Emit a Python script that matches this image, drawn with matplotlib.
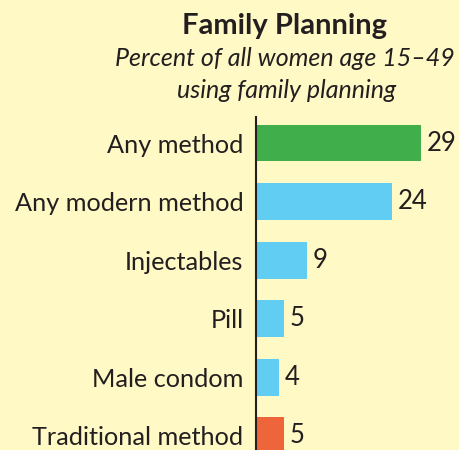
import matplotlib.pyplot as plt

methods = ['Any method', 'Any modern method', 'Injectables', 'Pill',
           'Male condom', 'Traditional method']
percent = [29, 24, 9, 5, 4, 5]
bar_colors = ['#40ae4a', '#62cdf2', '#62cdf2', '#62cdf2', '#62cdf2', '#ee643b']

bg = '#fff9c6'
ink = '#231f20'
font = 'Lato'

fig = plt.figure(figsize=(4.59, 4.50), dpi=100)
fig.set_facecolor(bg)

ax = fig.add_axes([256 / 459, 0, 203 / 459, 333 / 450])
ax.set_facecolor(bg)

pos = list(range(len(methods)))
ax.barh(pos, percent, height=0.63, color=bar_colors, zorder=2)

for p, v in zip(pos, percent):
    ax.annotate(str(v), (v, p), xytext=(4, 0), textcoords='offset points',
                va='center', ha='left', fontsize=18.5, color=ink, family=font)

ax.set_xlim(0, 35.7)
ax.set_ylim(5.24, -0.444)

ax.set_yticks(pos)
ax.set_yticklabels(methods, fontsize=18.2, color=ink, family=font)
ax.tick_params(axis='y', length=0, pad=9)
ax.set_xticks([])

for s in ['top', 'right', 'bottom']:
    ax.spines[s].set_visible(False)
ax.spines['left'].set_color(ink)
ax.spines['left'].set_linewidth(1.5)
ax.spines['left'].set_zorder(3)

fig.text(285 / 459, 1 - 26 / 450, 'Family Planning', ha='center', va='center',
         fontsize=21, fontweight='bold', color=ink, family=font)
fig.text(285 / 459, 1 - 58 / 450, 'Percent of all women age 15\u201349',
         ha='center', va='center', fontsize=18, style='italic', color=ink, family=font)
fig.text(287 / 459, 1 - 91 / 450, 'using family planning',
         ha='center', va='center', fontsize=18, style='italic', color=ink, family=font)

fig.savefig('out.png', dpi=100, facecolor=bg)
